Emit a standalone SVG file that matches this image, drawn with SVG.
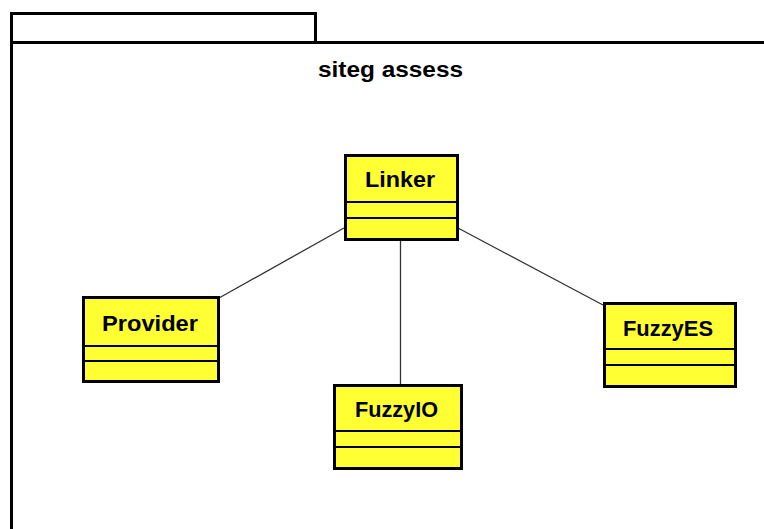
<svg xmlns="http://www.w3.org/2000/svg" width="764" height="529" viewBox="0 0 764 529">
  <style>
    .frame { fill: none; stroke: #000; stroke-width: 3; }
    .box { fill: #ffff33; stroke: #000; stroke-width: 3; }
    .div { stroke: #000; stroke-width: 2; }
    .edge { stroke: #333; stroke-width: 1.3; fill: none; }
    .lbl { font-family: "Liberation Sans", Arial, sans-serif; font-weight: bold; font-size: 22px; fill: #000; }
  </style>
  <rect width="764" height="529" fill="#fff"/>

  <!-- package frame -->
  <g id="package">
    <path class="frame" d="M11.5 42.5 V13.5 H315.5 V42.5"/>
    <path class="frame" d="M11.5 540 V42.5 H780"/>
    <text class="lbl" x="318" y="77" textLength="145" lengthAdjust="spacingAndGlyphs">siteg assess</text>
  </g>

  <!-- associations -->
  <g id="connectors">
    <line class="edge" x1="344" y1="228" x2="219" y2="298"/>
    <line class="edge" x1="400.5" y1="240" x2="400.5" y2="384"/>
    <line class="edge" x1="458" y1="228" x2="603" y2="305"/>
  </g>

  <g id="Linker">
    <rect class="box" x="345.5" y="155.5" width="112" height="84"/>
    <line class="div" x1="345.5" y1="202" x2="457.5" y2="202"/>
    <line class="div" x1="345.5" y1="218" x2="457.5" y2="218"/>
    <text class="lbl" x="365" y="187" textLength="70" lengthAdjust="spacingAndGlyphs">Linker</text>
  </g>

  <g id="Provider">
    <rect class="box" x="83.5" y="297.5" width="135" height="84"/>
    <line class="div" x1="83.5" y1="346" x2="218.5" y2="346"/>
    <line class="div" x1="83.5" y1="361" x2="218.5" y2="361"/>
    <text class="lbl" x="102" y="331" textLength="96" lengthAdjust="spacingAndGlyphs">Provider</text>
  </g>

  <g id="FuzzyIO">
    <rect class="box" x="334.5" y="385.5" width="127" height="83"/>
    <line class="div" x1="334.5" y1="431" x2="461.5" y2="431"/>
    <line class="div" x1="334.5" y1="447" x2="461.5" y2="447"/>
    <text class="lbl" x="355" y="417" textLength="83" lengthAdjust="spacingAndGlyphs">FuzzyIO</text>
  </g>

  <g id="FuzzyES">
    <rect class="box" x="604.5" y="303.5" width="131" height="83"/>
    <line class="div" x1="604.5" y1="349" x2="735.5" y2="349"/>
    <line class="div" x1="604.5" y1="365" x2="735.5" y2="365"/>
    <text class="lbl" x="623" y="336" textLength="90" lengthAdjust="spacingAndGlyphs">FuzzyES</text>
  </g>
</svg>
